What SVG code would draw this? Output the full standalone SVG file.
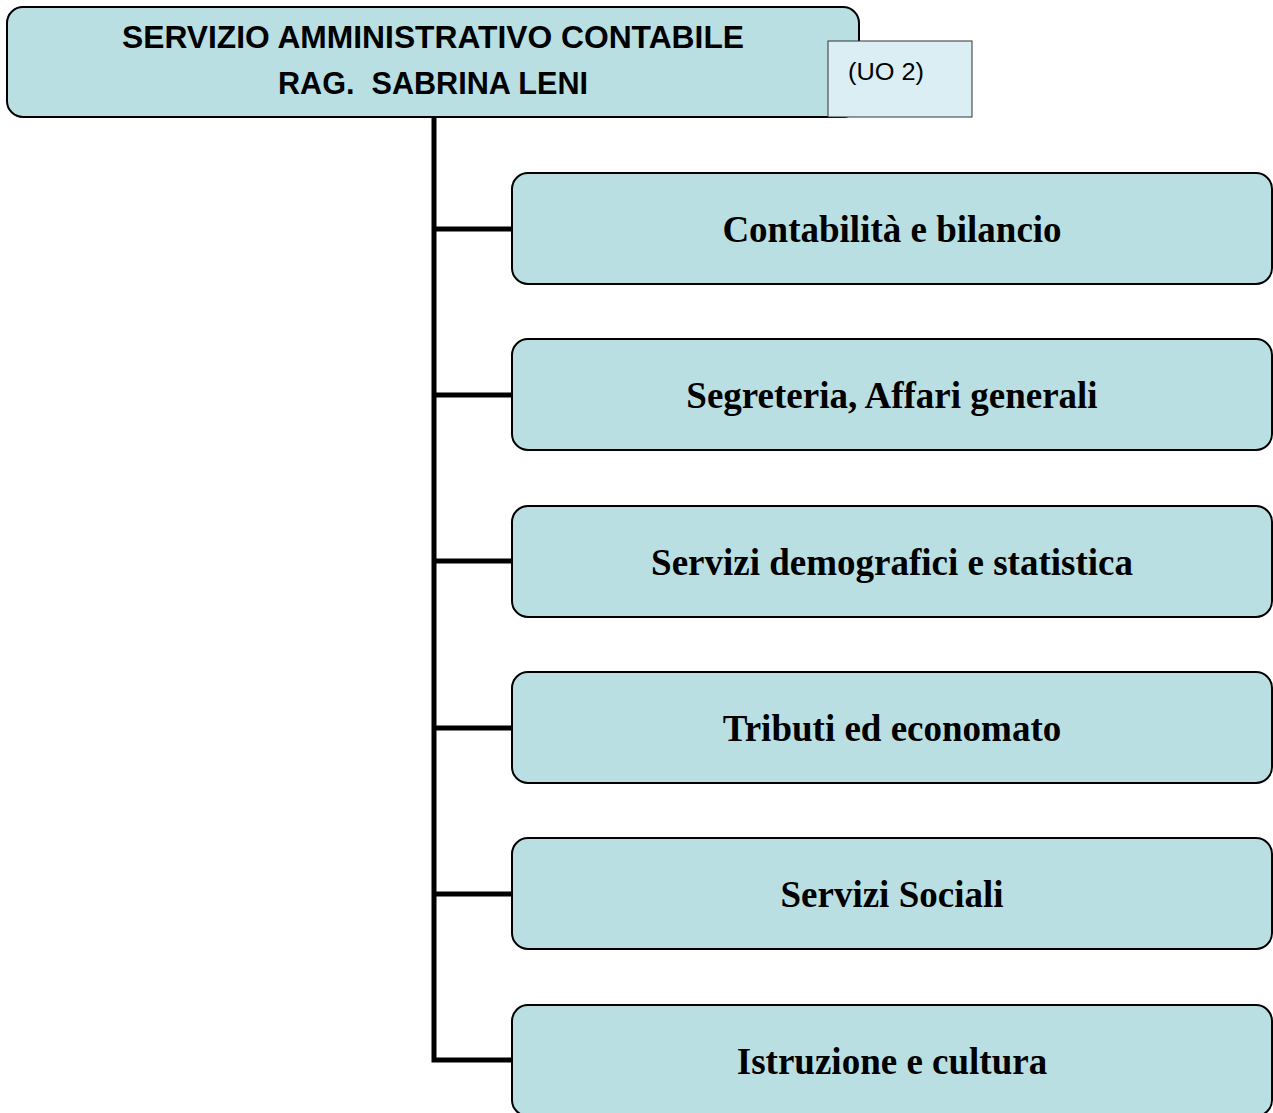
<svg xmlns="http://www.w3.org/2000/svg" width="1273" height="1113" viewBox="0 0 1273 1113">
<style>
.box{fill:#B9DFE3;stroke:#000;stroke-width:2}
.hdr{font-family:"Liberation Sans",Arial,sans-serif;font-weight:bold;font-size:32px;fill:#000;text-anchor:middle}
.lbl{font-family:"Liberation Serif","Times New Roman",serif;font-weight:bold;font-size:37px;fill:#000;text-anchor:middle}
.conn{stroke:#000;stroke-width:5;fill:none}
</style>
<rect width="1273" height="1113" fill="#fff"/>
<g id="connectors">
<path class="conn" d="M434,117 V1060 H512"/>
<path class="conn" d="M434,229 H512 M434,395 H512 M434,561 H512 M434,728 H512 M434,894 H512"/>
</g>
<g id="header">
<rect class="box" x="7" y="7" width="852" height="110" rx="16"/>
<text class="hdr" x="433" y="48" textLength="622" lengthAdjust="spacingAndGlyphs">SERVIZIO AMMINISTRATIVO CONTABILE</text>
<text class="hdr" x="433" y="94" textLength="310" lengthAdjust="spacingAndGlyphs" xml:space="preserve">RAG.  SABRINA LENI</text>
</g>
<g id="uo">
<rect x="828" y="41" width="144" height="76" fill="#DAEEF3" stroke="#333" stroke-width="1"/>
<text x="848" y="80" font-family="'Liberation Sans',Arial,sans-serif" font-size="23" fill="#000" textLength="76" lengthAdjust="spacingAndGlyphs">(UO 2)</text>
</g>
<g id="n1"><rect class="box" x="512" y="173" width="760" height="111" rx="16"/><text class="lbl" x="892" y="242">Contabilità e bilancio</text></g>
<g id="n2"><rect class="box" x="512" y="339" width="760" height="111" rx="16"/><text class="lbl" x="892" y="408">Segreteria, Affari generali</text></g>
<g id="n3"><rect class="box" x="512" y="506" width="760" height="111" rx="16"/><text class="lbl" x="892" y="575">Servizi demografici e statistica</text></g>
<g id="n4"><rect class="box" x="512" y="672" width="760" height="111" rx="16"/><text class="lbl" x="892" y="741">Tributi ed economato</text></g>
<g id="n5"><rect class="box" x="512" y="838" width="760" height="111" rx="16"/><text class="lbl" x="892" y="907">Servizi Sociali</text></g>
<g id="n6"><rect class="box" x="512" y="1005" width="760" height="111" rx="16"/><text class="lbl" x="892" y="1074">Istruzione e cultura</text></g>
</svg>
